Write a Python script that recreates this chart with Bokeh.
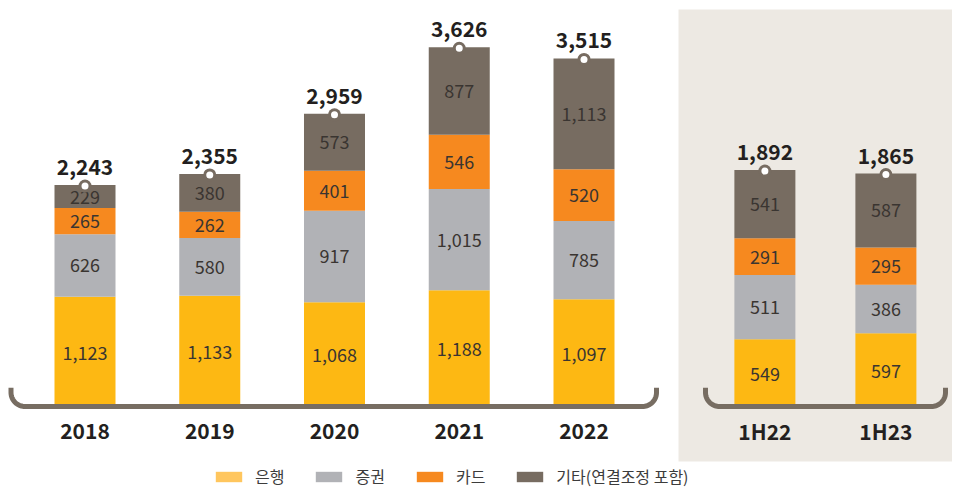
import numpy as np
from bokeh.plotting import figure
from bokeh.models import Range1d, ColumnDataSource, Legend, LegendItem
from bokeh.core.properties import value
from bokeh.embed import file_html
from bokeh.resources import INLINE

# ---------------- data ----------------
periods_annual = ["2018", "2019", "2020", "2021", "2022"]
bank_annual = [1123, 1133, 1068, 1188, 1097]
sec_annual = [626, 580, 917, 1015, 785]
card_annual = [265, 262, 401, 546, 520]
other_annual = [229, 380, 573, 877, 1113]

periods_half = ["1H22", "1H23"]
bank_half = [549, 597]
sec_half = [511, 386]
card_half = [291, 295]
other_half = [541, 587]

series_names = ["은행", "증권", "카드", "기타(연결조정 포함)"]

# ---------------- style / layout ----------------
BAR_COLORS = ["#FDB813", "#B1B2B6", "#F6891F", "#776C61"]
LEG_COLORS = ["#FFC65E", "#B1B2B6", "#F6891F", "#776C61"]
BRACKET = "#776D62"
PANEL = "#EDE9E3"
TXT = "#3A3531"
DARK_TXT = "#231F20"
FONT = "Noto Sans CJK KR"

W, H = 952, 488
PX_PER_X = 124.75
X0 = -84.5 / PX_PER_X
K_MAIN = 0.0996   # px per unit (annual)
K_HALF = 0.126    # px per unit (half-year)
BASE = 408        # baseline, px from top of frame

x_annual = [0, 1, 2, 3, 4]
x_half = [5.45, 6.42]
BAR_W = 0.489


def sx(px):
    return X0 + px / PX_PER_X


def sy(py):
    return (BASE - py) / K_MAIN


p = figure(width=W, height=H,
           x_range=Range1d(X0, X0 + W / PX_PER_X),
           y_range=Range1d(-(H - BASE) / K_MAIN, BASE / K_MAIN),
           output_backend="svg", toolbar_location=None, min_border=0,
           x_axis_location=None, y_axis_location=None,
           outline_line_color=None, background_fill_color="white",
           border_fill_color="white")
p.extra_y_ranges = {"half": Range1d(-(H - BASE) / K_HALF, BASE / K_HALF)}
p.grid.visible = False

# beige panel behind half-year
p.quad(left=sx(678), right=sx(968), bottom=sy(461), top=sy(9),
       fill_color=PANEL, line_color=None)

keys = ["bank", "sec", "card", "other"]


def draw_group(xs, bank, sec, card, other, periods, rng, k):
    src = ColumnDataSource(dict(x=xs, bank=bank, sec=sec, card=card, other=other))
    kw = {} if rng is None else {"y_range_name": rng}
    p.vbar_stack(keys, x="x", width=BAR_W, fill_color=BAR_COLORS,
                 line_color=None, source=src, **kw)
    vals = np.array([bank, sec, card, other], dtype=float)
    cum = np.cumsum(vals, axis=0)
    mids = cum - vals / 2
    lx, ly, lt = [], [], []
    for j in range(vals.shape[0]):
        for i in range(vals.shape[1]):
            lx.append(xs[i])
            ly.append(mids[j, i])
            lt.append(f"{int(vals[j, i]):,}")
    p.text(x=lx, y=ly, text=lt, text_align="center", text_baseline="middle",
           text_font=value(FONT), text_font_size="18px", text_color=TXT, **kw)
    totals = cum[-1]
    pin_y = totals - 1.0 / k
    p.scatter(x=xs, y=pin_y, size=13, fill_color=BAR_COLORS[3], line_color=None, **kw)
    p.scatter(x=xs, y=pin_y, size=7, fill_color="white", line_color=None, **kw)
    p.text(x=xs, y=totals, text=[f"{int(t):,}" for t in totals], y_offset=-18,
           text_align="center", text_baseline="alphabetic",
           text_font=value(FONT), text_font_style="bold", text_font_size="21px",
           text_color=DARK_TXT, **kw)
    p.text(x=xs, y=[sy(430)] * len(xs), text=periods, text_align="center",
           text_baseline="middle", text_font=value(FONT), text_font_style="bold",
           text_font_size="21px", text_color=DARK_TXT)


draw_group(x_annual, bank_annual, sec_annual, card_annual, other_annual,
           periods_annual, None, K_MAIN)
draw_group(x_half, bank_half, sec_half, card_half, other_half,
           periods_half, "half", K_HALF)


def bracket(x1, x2, ytop=387.3, yline=406.0, r=14.0):
    t1 = np.linspace(np.pi, np.pi / 2, 20)
    t2 = np.linspace(np.pi / 2, 0, 20)
    xs = [x1] + list(x1 + r + r * np.cos(t1)) + list(x2 - r + r * np.cos(t2)) + [x2]
    ys = [ytop] + list(yline - r + r * np.sin(t1)) + list(yline - r + r * np.sin(t2)) + [ytop]
    p.line([sx(v) for v in xs], [sy(v) for v in ys], line_width=5,
           line_color=BRACKET, line_cap="butt", line_join="round")


bracket(10.5, 656)
bracket(705, 945)

# legend (proxy renderers placed outside the visible range)
leg_renderers = [p.vbar(x=[-50], top=[1], width=0.1, fill_color=c, line_color=None)
                 for c in LEG_COLORS]
legend = Legend(items=[LegendItem(label=n, renderers=[r])
                       for n, r in zip(series_names, leg_renderers)],
                orientation="horizontal", location=(212, 0),
                glyph_width=33, glyph_height=13, label_standoff=10, spacing=28,
                padding=0, margin=0, border_line_color=None,
                background_fill_alpha=0, label_height=14,
                label_text_font=FONT, label_text_font_size="16px",
                label_text_color="#3C3C3C")
p.add_layout(legend, "center")

open("out.html", "w").write(file_html(p, INLINE))
